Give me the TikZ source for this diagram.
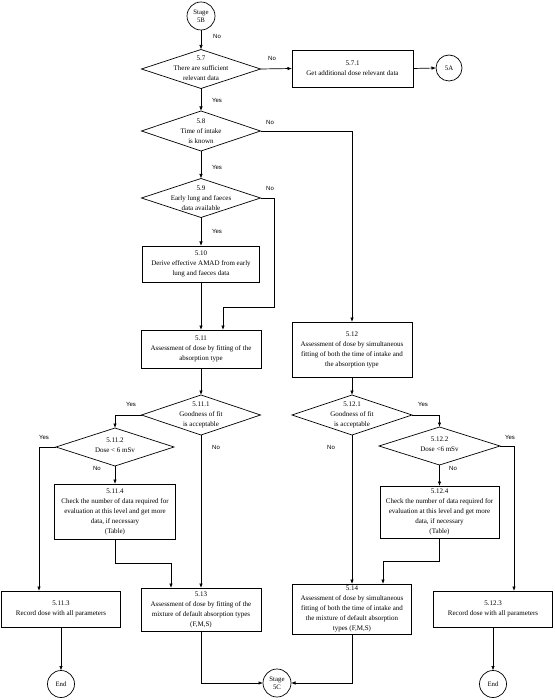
\documentclass[tikz,border=0pt]{standalone}
\usepackage{fontspec}
\setmainfont{Liberation Serif}
\newfontfamily\lblfont{Liberation Sans}
\usetikzlibrary{shapes.geometric,arrows.meta}
\begin{document}
\begin{tikzpicture}[x=1pt,y=-1pt,
 every node/.style={inner sep=0pt,outer sep=0pt},
 box/.style={draw,line width=0.7pt,minimum width=120pt,align=center,font=\fontsize{7}{10}\selectfont},
 dia/.style={draw,diamond,line width=0.7pt,minimum width=119pt,minimum height=39pt},
 txt/.style={align=center,font=\fontsize{7}{9.8}\selectfont},
 term/.style={draw,circle,line width=0.7pt,minimum size=27pt,align=center,font=\fontsize{6.8}{8}\selectfont},
 lbl/.style={font=\fontsize{6}{7}\selectfont\lblfont},
 flow/.style={draw,line width=0.7pt,-{Latex[length=4.5pt,width=3.5pt]}},
]
\path[use as bounding box,fill=white] (0,0) rectangle (554,700);

% left / main column
\node[term,minimum size=28pt] (s5b) at (201,16) {Stage\\5B};
\node[dia] (d57) at (201,69) {};
\node[txt] (t57) at (201,68) {5.7\\There are sufficient\\relevant data};
\node[box,minimum width=121pt,minimum height=37pt] (b571) at (352.5,68.5) {5.7.1\\Get additional dose relevant data};
\node[term,minimum size=26pt] (c5a) at (449,68) {5A};
\node[dia,minimum height=40pt] (d58) at (201,131) {};
\node[txt] (t58) at (201,131) {5.8\\Time of intake\\is known};
\node[dia] (d59) at (201,198) {};
\node[txt] (t59) at (201,198) {5.9\\Early lung and faeces\\data available};
\node[box,minimum width=117pt,minimum height=36pt] (b510) at (201,264) {5.10\\Derive effective AMAD from early\\lung and faeces data};
\node[box,minimum height=38pt] (b511) at (201,349) {5.11\\Assessment of dose by fitting of the\\absorption type};
\node[box,minimum height=55pt] (b512) at (352,349.5) {5.12\\Assessment of dose by simultaneous\\fitting of both the time of intake and\\the absorption type};
\node[dia,minimum height=40pt] (d5111) at (201,415) {};
\node[txt] (t5111) at (201,415) {5.11.1\\Goodness of fit\\is acceptable};
\node[dia,minimum height=40pt,minimum width=120pt] (d5121) at (352,415) {};
\node[txt] (t5121) at (352,415) {5.12.1\\Goodness of fit\\is acceptable};
\node[dia,minimum width=118pt,minimum height=38pt] (d5112) at (115,447) {};
\node[txt] (t5112) at (115,445) {5.11.2\\Dose < 6 mSv};
\node[dia,minimum width=121pt,minimum height=38pt] (d5122) at (439.5,446) {};
\node[txt] (t5122) at (439.5,444) {5.12.2\\Dose <6 mSv};
\node[box,minimum width=121pt,minimum height=55pt] (b5114) at (115,511.5) {5.11.4\\Check the number of data required for\\evaluation at this level and get more\\data, if necessary\\(Table)};
\node[box,minimum width=119pt,minimum height=52pt] (b5124) at (439.5,512) {5.12.4\\Check the number of data required for\\evaluation at this level and get more\\data, if necessary\\(Table)};
\node[box,minimum width=119pt,minimum height=36pt] (b5113) at (61,609) {5.11.3\\Record dose with all parameters};
\node[box,minimum height=43pt] (b513) at (201,609.5) {5.13\\Assessment of dose by fitting of the\\mixture of default absorption types\\(F,M,S)};
\node[box,minimum width=119pt,minimum height=50pt] (b514) at (352,609) {5.14\\Assessment of dose by simultaneous\\fitting of both the time of intake and\\the mixture of default absorption\\types (F,M,S)};
\node[box,minimum width=119pt,minimum height=36pt] (b5123) at (493,609) {5.12.3\\Record dose with all parameters};
\node[term] (e1) at (61,684) {End};
\node[term,minimum size=28pt] (s5c) at (277,683) {Stage\\5C};
\node[term] (e2) at (493,684) {End};

% bend points
\coordinate (k59) at (274,307);
\coordinate (k5114) at (115,563);
\coordinate (k5124) at (439.5,561);

% connectors
\draw[flow] (s5b.south) -- (d57.north);
\draw[flow] (d57.east) -- (b571.west);
\draw[flow] (b571.east) -- (c5a.west);
\draw[flow] (d57.south) -- (d58.north);
\draw[flow] (d58.east) -| (b512.north);
\draw[flow] (d58.south) -- (d59.north);
\draw[flow] (d59.south) -- (b510.north);
\draw[flow] (d59.east) -| (k59) -| ([xshift=22pt]b511.north);
\draw[flow] (b510.south) -- (b511.north);
\draw[flow] (b511.south) -- (d5111.north);
\draw[flow] (d5111.west) -| (d5112.north);
\draw[flow] (d5111.south) -- (b513.north);
\draw[flow] (d5112.west) -| ([xshift=-22pt]b5113.north);
\draw[flow] (d5112.south) -- (b5114.north);
\draw[flow] (b5114.south) -- (k5114) -| ([xshift=-30pt]b513.north);
\draw[flow] (b5113.south) -- (e1.north);
\draw[flow] (b513.south) |- (s5c.west);
\draw[flow] (b512.south) -- (d5121.north);
\draw[flow] (d5121.east) -| (d5122.north);
\draw[flow] (d5121.south) -- (b514.north);
\draw[flow] (d5122.east) -| ([xshift=21pt]b5123.north);
\draw[flow] (d5122.south) -- (b5124.north);
\draw[flow] (b5124.south) -- (k5124) -| ([xshift=31pt]b514.north);
\draw[flow] (b5123.south) -- (e2.north);
\draw[flow] (b514.south) |- (s5c.east);

% labels
\node[lbl] (l1) at (217,36) {No};
\node[lbl] (l2) at (272,58) {No};
\node[lbl] (l3) at (217,100) {Yes};
\node[lbl] (l4) at (270,122) {No};
\node[lbl] (l5) at (217,167) {Yes};
\node[lbl] (l6) at (270,188) {No};
\node[lbl] (l7) at (217,231) {Yes};
\node[lbl] (l8) at (131,404) {Yes};
\node[lbl] (l9) at (44,437) {Yes};
\node[lbl] (l10) at (216,447) {No};
\node[lbl] (l11) at (97,468) {No};
\node[lbl] (l12) at (423,404) {Yes};
\node[lbl] (l13) at (331,447) {No};
\node[lbl] (l14) at (510,437) {Yes};
\node[lbl] (l15) at (453,468) {No};
\end{tikzpicture}
\end{document}
